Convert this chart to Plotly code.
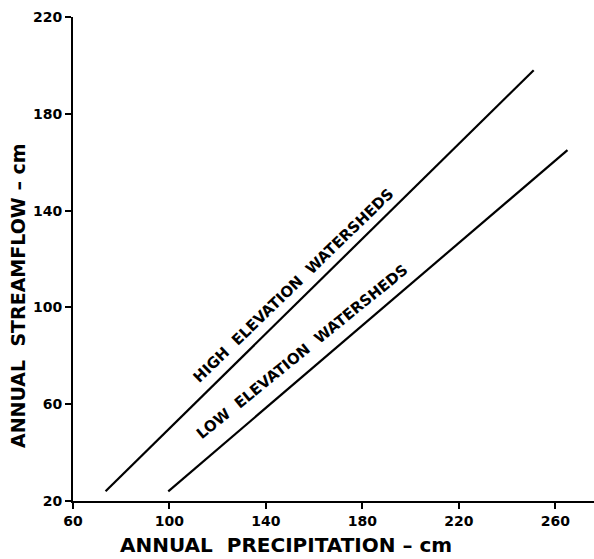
import plotly.graph_objects as go

# Data
high_precip = [73.5, 251]
high_flow = [24, 198]
low_precip = [99.5, 265]
low_flow = [24, 165]

x_ticks = [60, 100, 140, 180, 220, 260]
y_ticks = [20, 60, 100, 140, 180, 220]

FONT = "DejaVu Sans"

fig = go.Figure()
fig.add_trace(go.Scatter(x=high_precip, y=high_flow, mode="lines",
                         line=dict(color="black", width=2.2), showlegend=False))
fig.add_trace(go.Scatter(x=low_precip, y=low_flow, mode="lines",
                         line=dict(color="black", width=2.2), showlegend=False))

fig.update_layout(
    width=594, height=559,
    margin=dict(l=73, r=0, t=17, b=58),
    plot_bgcolor="white", paper_bgcolor="white",
    font=dict(family=FONT, color="black"),
    xaxis=dict(range=[60, 276], tickvals=x_ticks, ticks="outside", ticklen=6,
               tickwidth=1.5, tickcolor="black", showline=True, linecolor="black",
               linewidth=2, showgrid=False, zeroline=False,
               tickfont=dict(size=14, family=FONT, weight="bold")),
    yaxis=dict(range=[20, 220], tickvals=y_ticks, ticks="outside", ticklen=6,
               tickwidth=1.5, tickcolor="black", showline=True, linecolor="black",
               linewidth=2, showgrid=False, zeroline=False,
               tickfont=dict(size=14, family=FONT, weight="bold")),
    annotations=[
        dict(text="ANNUAL  PRECIPITATION – cm", xref="paper", yref="paper",
             x=(286-73)/521, y=-(545-501)/484, xanchor="center", yanchor="middle",
             showarrow=False, font=dict(size=20, family=FONT, weight="bold")),
        dict(text="ANNUAL  STREAMFLOW – cm", xref="paper", yref="paper",
             x=-(73-18)/521, y=(501-296)/484, xanchor="center", yanchor="middle",
             textangle=-90, showarrow=False, font=dict(size=19, family=FONT, weight="bold")),
        dict(text="HIGH  ELEVATION  WATERSHEDS", xref="paper", yref="paper",
             x=(293-73)/521, y=(501-286)/484, xanchor="center", yanchor="middle",
             textangle=-44, showarrow=False, font=dict(size=15, family=FONT, weight="bold")),
        dict(text="LOW  ELEVATION  WATERSHEDS", xref="paper", yref="paper",
             x=(302-73)/521, y=(501-352)/484, xanchor="center", yanchor="middle",
             textangle=-39, showarrow=False, font=dict(size=15, family=FONT, weight="bold")),
    ],
)

fig.write_html("out.html")
